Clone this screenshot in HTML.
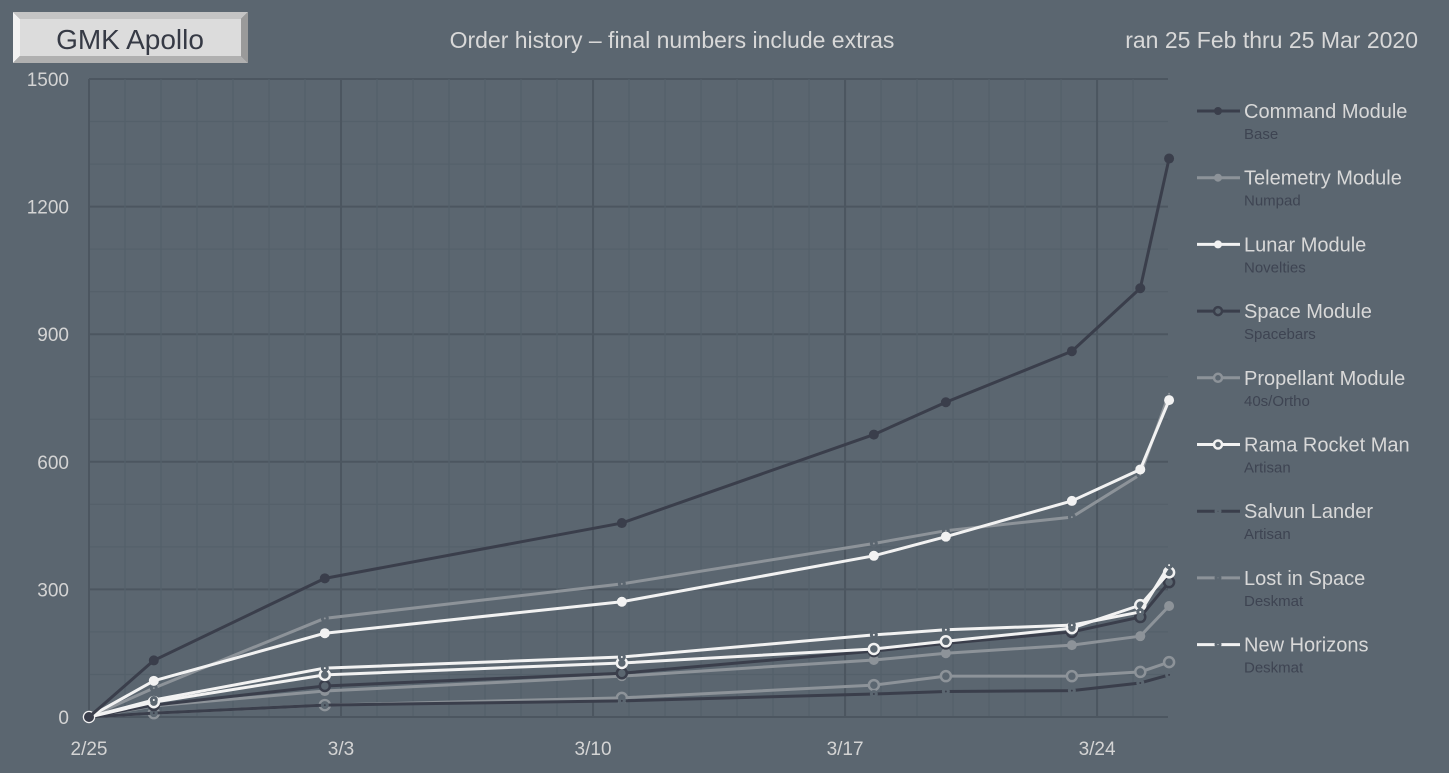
<!DOCTYPE html>
<html><head><meta charset="utf-8">
<style>
html,body{margin:0;padding:0;background:#5b6670;width:1449px;height:773px;overflow:hidden;font-family:"Liberation Sans",sans-serif}
svg text{font-family:"Liberation Sans",sans-serif}
</style></head>
<body>
<svg id="chart" width="1449" height="773" viewBox="0 0 1449 773">
  <rect x="0" y="0" width="1449" height="773" fill="#5b6670"/>
  <g>
    <polygon points="13,12 248,12 241,19 20,19" fill="#c4c4c4"/>
    <polygon points="13,12 20,19 20,56 13,63" fill="#f2f2f2"/>
    <polygon points="248,12 248,63 241,56 241,19" fill="#9a9a9a"/>
    <polygon points="13,63 20,56 241,56 248,63" fill="#b0b0b0"/>
    <rect x="20" y="19" width="221" height="37" fill="#dcdcdc"/>
    <text x="130" y="49" text-anchor="middle" font-size="28" fill="#363a45">GMK Apollo</text>
  </g>
  <text x="672" y="48" text-anchor="middle" font-size="23" fill="#d8d8d8">Order history – final numbers include extras</text>
  <text x="1418" y="48" text-anchor="end" font-size="23" fill="#d8d8d8">ran 25 Feb thru 25 Mar 2020</text>
  <g id="grid"></g>
  <g id="axes"></g>
  <g id="series"></g>
  <g id="legend"></g>
</svg>
<script>
const days = [0, 1.8, 6.55, 14.8, 21.8, 23.8, 27.3, 29.2, 30];
const seriesNames = ["Command Module","Telemetry Module","Lunar Module","Space Module","Propellant Module","Rama Rocket Man","Salvun Lander","Lost in Space","New Horizons"];
const seriesSubs = ["Base","Numpad","Novelties","Spacebars","40s/Ortho","Artisan","Artisan","Deskmat","Deskmat"];
const commandVals   = [0,133,326,456,664,740,860,1008,1313];
const telemetryVals = [0,26,61,96,134,150,169,190,261];
const lunarVals     = [0,85,197,271,379,424,508,582,745];
const spaceVals     = [0,28,73,103,155,173,200,235,317];
const propellantVals= [0,9,28,45,75,96,96,106,129];
const ramaVals      = [0,35,99,127,160,178,209,263,340];
const salvunVals    = [0,9,28,38,54,60,62,80,99];
const lostVals      = [0,68,232,313,408,438,470,570,760];
const horizonsVals  = [0,40,115,141,193,205,216,247,357];
const yTicks = [0,300,600,900,1200,1500];
const xTickDays = [0,7,14,21,28];
const xTickLabels = ["2/25","3/3","3/10","3/17","3/24"];

const X0=89, X1=1168, Y0=717, Y1=79, DMAX=29.97, VMAX=1500;
const xs = d => X0 + d/DMAX*(X1-X0);
const ys = v => Y0 - v/VMAX*(Y0-Y1);
const NS="http://www.w3.org/2000/svg";
function mk(tag, attrs, parent){const e=document.createElementNS(NS,tag);for(const k in attrs)e.setAttribute(k,attrs[k]);parent.appendChild(e);return e;}

const grid=document.getElementById('grid');
for(let v=0; v<=1500; v+=100){
  const l=mk('line',{x1:X0,x2:X1,y1:ys(v),y2:ys(v),stroke:v%300===0?'#4c5660':'#54606a','stroke-width':v%300===0?2:1.2},grid);
  
  
}
for(let d=0; d<=30; d++){
  const x=xs(d); if(x>X1+1) break;
  const l=mk('line',{x1:x,x2:x,y1:Y1,y2:Y0,stroke:d%7===0?'#4c5660':'#54606a','stroke-width':d%7===0?2:1.2},grid);
  
  
}
const axes=document.getElementById('axes');
const xa=mk('line',{x1:X0,x2:X1,y1:Y0,y2:Y0,stroke:'#4c5660','stroke-width':2},axes);


yTicks.forEach(v=>{
  const t=mk('text',{x:69,y:ys(v)+7,'text-anchor':'end','font-size':19,fill:'#d4d4d4'},axes);
  t.textContent=v;
  
  
});
xTickDays.forEach((d,i)=>{
  const t=mk('text',{x:xs(d),y:755,'text-anchor':'middle','font-size':19,fill:'#d4d4d4'},axes);
  t.textContent=xTickLabels[i];
  
  
});

const DARK='#3a3e4b', GRAY='#8d9399', WHITE='#f2f2f2', BG='#5b6670';
const styles=[
  {vals:commandVals,c:DARK,m:'fill',r:5},
  {vals:telemetryVals,c:GRAY,m:'fill',r:5},
  {vals:lunarVals,c:WHITE,m:'fill',r:5},
  {vals:spaceVals,c:DARK,m:'hollow',r:5},
  {vals:propellantVals,c:GRAY,m:'hollow',r:5},
  {vals:ramaVals,c:WHITE,m:'hollow',r:5},
  {vals:salvunVals,c:DARK,m:'dot',r:2.5},
  {vals:lostVals,c:GRAY,m:'dot',r:2.5},
  {vals:horizonsVals,c:WHITE,m:'dot',r:2.5}
];
const sg=document.getElementById('series');
const order=[4,1,6,3,7,5,8,2,0];
order.forEach(i=>{
  const s=styles[i];
  const g=mk('g',{},sg);
  
  
  const pts=s.vals.map((v,j)=>xs(days[j])+','+ys(v)).join(' ');
  const pl=mk('polyline',{points:pts,fill:'none',stroke:s.c,'stroke-width':3,'stroke-linejoin':'round'},g);
  
  
  s.vals.forEach((v,j)=>{
    let c;
    if(s.m==='fill') c=mk('circle',{cx:xs(days[j]),cy:ys(v),r:s.r,fill:s.c},g);
    else if(s.m==='hollow') c=mk('circle',{cx:xs(days[j]),cy:ys(v),r:s.r,fill:BG,stroke:s.c,'stroke-width':2.5},g);
    else c=mk('circle',{cx:xs(days[j]),cy:ys(v),r:s.r,fill:s.c,stroke:BG,'stroke-width':3},g);
    
    
  });
});

const lg=document.getElementById('legend');
styles.forEach((s,i)=>{
  const y=111+i*66.7;
  const g=mk('g',{},lg);
  
  
  mk('line',{x1:1197,x2:1240,y1:y,y2:y,stroke:s.c,'stroke-width':3},g);
  if(s.m==='fill') mk('circle',{cx:1218,cy:y,r:4,fill:s.c},g);
  else if(s.m==='hollow') mk('circle',{cx:1218,cy:y,r:4,fill:BG,stroke:s.c,'stroke-width':2.5},g);
  else mk('circle',{cx:1218,cy:y,r:2,fill:s.c,stroke:BG,'stroke-width':3},g);
  const t=mk('text',{x:1244,y:y+7,'font-size':20,fill:'#d8d8d8'},g);
  t.textContent=seriesNames[i];
  const st=mk('text',{x:1244,y:y+28,'font-size':15,fill:'#3e4452'},g);
  st.textContent=seriesSubs[i];
});
</script>
</body></html>
